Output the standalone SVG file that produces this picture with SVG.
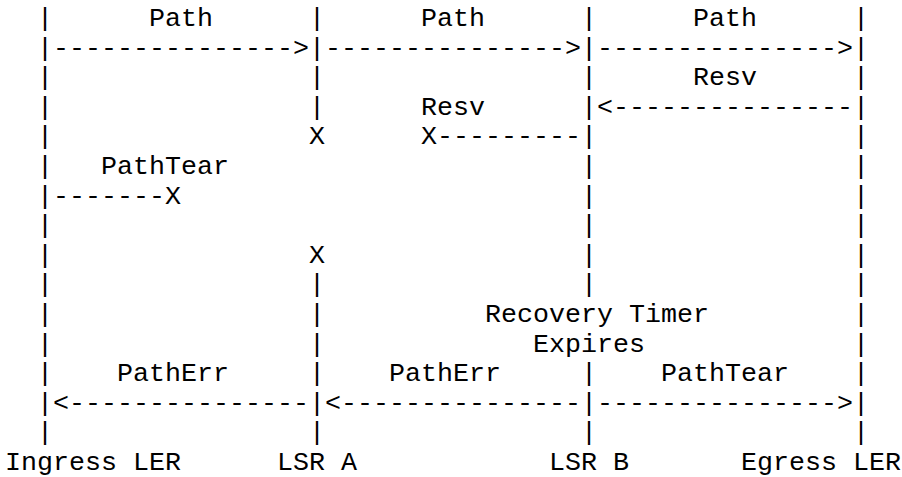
<svg xmlns="http://www.w3.org/2000/svg" width="902" height="477" viewBox="0 0 902 477">
<style>
text{font-family:"Liberation Mono","Courier New",monospace;font-size:26.667px;fill:#000;white-space:pre}
</style>
<rect width="902" height="477" fill="#fff"/>
<g id="ingress">
<text x="37" y="26">|</text><text x="37" y="55.6">|</text><text x="37" y="85.2">|</text><text x="37" y="114.8">|</text><text x="37" y="144.4">|</text><text x="37" y="174">|</text><text x="37" y="203.6">|</text><text x="37" y="233.2">|</text><text x="37" y="262.8">|</text><text x="37" y="292.4">|</text><text x="37" y="322">|</text><text x="37" y="351.6">|</text><text x="37" y="381.2">|</text><text x="37" y="410.8">|</text><text x="37" y="440.4">|</text>
<text x="5" y="470">Ingress LER</text>
</g>
<g id="lsrA">
<text x="309" y="26">|</text><text x="309" y="55.6">|</text><text x="309" y="85.2">|</text><text x="309" y="114.8">|</text>
<text x="309" y="144.4">X</text>
<text x="309" y="262.8">X</text>
<text x="309" y="292.4">|</text><text x="309" y="322">|</text><text x="309" y="351.6">|</text><text x="309" y="381.2">|</text><text x="309" y="410.8">|</text><text x="309" y="440.4">|</text>
<text x="277" y="470">LSR A</text>
</g>
<g id="lsrB">
<text x="581" y="26">|</text><text x="581" y="55.6">|</text><text x="581" y="85.2">|</text><text x="581" y="114.8">|</text><text x="581" y="144.4">|</text><text x="581" y="174">|</text><text x="581" y="203.6">|</text><text x="581" y="233.2">|</text><text x="581" y="262.8">|</text><text x="581" y="292.4">|</text>
<text x="581" y="381.2">|</text><text x="581" y="410.8">|</text><text x="581" y="440.4">|</text>
<text x="549" y="470">LSR B</text>
<text x="485" y="322">Recovery Timer</text>
<text x="533" y="351.6">Expires</text>
</g>
<g id="egress">
<text x="853" y="26">|</text><text x="853" y="55.6">|</text><text x="853" y="85.2">|</text><text x="853" y="114.8">|</text><text x="853" y="144.4">|</text><text x="853" y="174">|</text><text x="853" y="203.6">|</text><text x="853" y="233.2">|</text><text x="853" y="262.8">|</text><text x="853" y="292.4">|</text><text x="853" y="322">|</text><text x="853" y="351.6">|</text><text x="853" y="381.2">|</text><text x="853" y="410.8">|</text><text x="853" y="440.4">|</text>
<text x="741" y="470">Egress LER</text>
</g>
<g id="connectors">
<text x="149" y="26">Path</text><text x="421" y="26">Path</text><text x="693" y="26">Path</text>
<text x="53" y="55.6">---------------&gt;</text><text x="325" y="55.6">---------------&gt;</text><text x="597" y="55.6">---------------&gt;</text>
<text x="693" y="85.2">Resv</text>
<text x="597" y="114.8">&lt;---------------</text>
<text x="421" y="114.8">Resv</text>
<text x="421" y="144.4">X---------</text>
<text x="101" y="174">PathTear</text>
<text x="53" y="203.6">-------X</text>
<text x="117" y="381.2">PathErr</text><text x="389" y="381.2">PathErr</text><text x="661" y="381.2">PathTear</text>
<text x="53" y="410.8">&lt;---------------</text><text x="325" y="410.8">&lt;---------------</text><text x="597" y="410.8">---------------&gt;</text>
</g>
</svg>
